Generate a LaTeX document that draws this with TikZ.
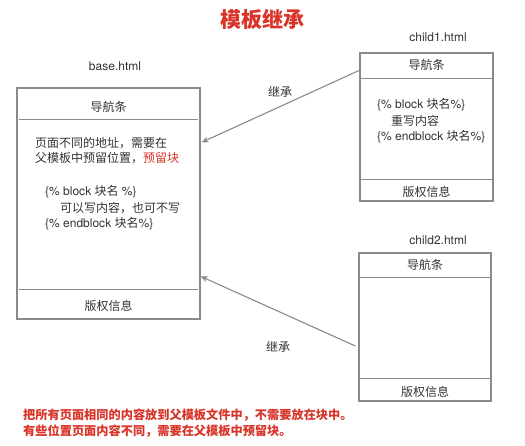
\documentclass[tikz,border=0pt]{standalone}
\usepackage{fontspec}
\setmainfont{TeX Gyre Heros}
\newfontfamily\zhfont{Noto Sans CJK SC}
\newcommand{\zh}[1]{{\zhfont #1}}
\usetikzlibrary{arrows.meta,calc}
\definecolor{boxgray}{HTML}{8A8A8A}
\definecolor{txtgray}{HTML}{333333}
\definecolor{redtxt}{HTML}{D8342A}
\tikzset{
  pagebox/.style={draw=boxgray, line width=1.3pt, inner sep=0pt},
  divider/.style={draw=boxgray, line width=1.3pt},
  lbl/.style={text=txtgray, inner sep=0pt, font=\fontsize{12}{14}\selectfont},
  lline/.style={lbl, anchor=west},
  inherit/.style={draw=boxgray, line width=1.1pt, -{Stealth[length=7pt,width=6pt]}},
  redline/.style={text=redtxt, inner sep=0pt, anchor=west, font=\fontsize{12.2}{14}\selectfont\zhfont\bfseries}
}
\begin{document}
\begin{tikzpicture}[x=1pt,y=-1pt]
\useasboundingbox[fill=white] (0,0) rectangle (525,445);

% title
\node[inner sep=0pt, text=redtxt, font=\fontsize{21}{23}\selectfont\zhfont\bfseries] (title) at (262,19) {模板继承};

% base box
\node[lbl] (baselbl) at (115,66) {base.html};
\node[pagebox, minimum width=183pt, minimum height=231pt] (base) at (108.5,203.5) {};
\draw[divider] ($(base.north west)+(3,32)$) -- ($(base.north east)+(-3,32)$);
\draw[divider] ($(base.south west)+(3,-30)$) -- ($(base.south east)+(-3,-30)$);
\node[lbl] (basenav) at (108.5,107) {\zh{导航条}};
\node[lline] (b1) at (35,143) {\zh{页面不同的地址，需要在}};
\node[lline] (b2) at (35,158) {\zh{父模板中预留位置，}\textcolor{redtxt}{\zh{预留块}}};
\node[lline] (b3) at (45,192) {\{\% block \zh{块名} \%\}};
\node[lline] (b4) at (60,208) {\zh{可以写内容，也可不写}};
\node[lline] (b5) at (45,224) {\{\% endblock \zh{块名}\%\}};
\node[lbl] (basefoot) at (108.5,306) {\zh{版权信息}};

% child1
\node[lbl] (c1lbl) at (438,37) {child1.html};
\node[pagebox, minimum width=133pt, minimum height=148pt] (child1) at (426.5,127) {};
\draw[divider] ($(child1.north west)+(0,26)$) -- ($(child1.north east)+(0,26)$);
\draw[divider] ($(child1.south west)+(0,-22)$) -- ($(child1.south east)+(0,-22)$);
\node[lbl] (c1nav) at (426.5,65) {\zh{导航条}};
\node[lline] (c1a) at (377,105) {\{\% block \zh{块名}\%\}};
\node[lline] (c1b) at (391,121) {\zh{重写内容}};
\node[lline] (c1c) at (377,137) {\{\% endblock \zh{块名}\%\}};
\node[lbl] (c1foot) at (426.5,192) {\zh{版权信息}};

% child2
\node[lbl] (c2lbl) at (438,240) {child2.html};
\node[pagebox, minimum width=132pt, minimum height=148pt] (child2) at (425,327) {};
\draw[divider] ($(child2.north west)+(0,25)$) -- ($(child2.north east)+(0,25)$);
\draw[divider] ($(child2.south west)+(0,-23)$) -- ($(child2.south east)+(0,-23)$);
\node[lbl] (c2nav) at (425,265) {\zh{导航条}};
\node[lbl] (c2foot) at (425,392) {\zh{版权信息}};

% arrows
\coordinate (a1s) at ($(child1.north west)+(0,18)$);
\coordinate (a1e) at ($(base.north east)+(1,55)$);
\coordinate (a2s) at ($(child2.west)+(-3,19)$);
\coordinate (a2e) at ($(base.north east)+(0,189)$);
\draw[inherit] (a1s) -- (a1e);
\draw[inherit] (a2s) -- (a2e);
\node[lbl] (inh1) at (280,92) {\zh{继承}};
\node[lbl] (inh2) at (278,347) {\zh{继承}};

% bottom notes
\node[redline] (n1) at (23,415) {把所有页面相同的内容放到父模板文件中，不需要放在块中。};
\node[redline] (n2) at (23,431) {有些位置页面内容不同，需要在父模板中预留块。};
\end{tikzpicture}
\end{document}
